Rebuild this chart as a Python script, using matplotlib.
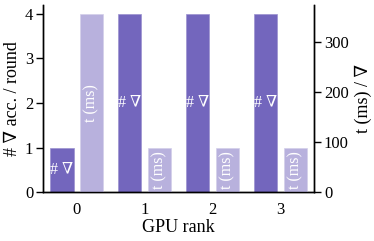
import matplotlib
matplotlib.use("Agg")
import matplotlib.pyplot as plt
import numpy as np

plt.rcParams['font.family'] = ['Liberation Serif', 'DejaVu Serif']

ranks = [0, 1, 2, 3]
grad_acc = [1, 4, 4, 4]          # # grad accumulations per round
time_ms = [356, 89, 89, 89]       # time per grad (ms)

dark = "#7366bd"
light = "#b8b1dd"

fig = plt.figure(figsize=(3.74, 2.41), dpi=100)
ax = fig.add_axes([0.115, 0.203, 0.725, 0.776])
ax2 = ax.twinx()

x = np.arange(len(ranks))
w = 0.34
off = 0.22

ax.bar(x - off, grad_acc, w, color=dark, edgecolor="#9c92d0", linewidth=0.5)
ax2.bar(x + off, time_ms, w, color=light, edgecolor="#d3cfea", linewidth=0.5)

# labels inside bars
for i in range(len(ranks)):
    ax.text(x[i] - off, grad_acc[i] / 2, "# ∇", color="white", ha="center", va="center",
            fontsize=11.5)
    ax2.text(x[i] + off, time_ms[i] / 2, "t (ms)", color="white", ha="center", va="center",
             fontsize=11.5, rotation=90)

ax.set_xlim(-0.5, 3.5)
ax.set_ylim(0, 4.2)
ax2.set_ylim(0, 374)
ax.set_xticks(x)
ax.set_xticklabels([str(r) for r in ranks])
ax.set_yticks([0, 1, 2, 3, 4])
ax2.set_yticks([0, 100, 200, 300])

ax.set_xlabel("GPU rank", fontsize=13, labelpad=1)
ax.set_ylabel("# ∇ acc. / round", fontsize=13, labelpad=3)
ax2.set_ylabel("t (ms) / ∇", fontsize=13, labelpad=4)

for a in (ax, ax2):
    a.spines['top'].set_visible(False)
    a.tick_params(labelsize=12, width=1, length=5, pad=2)
    for s in a.spines.values():
        s.set_linewidth(1)
ax.tick_params(axis='x', length=0, pad=7)

fig.savefig("out.png", dpi=100)
